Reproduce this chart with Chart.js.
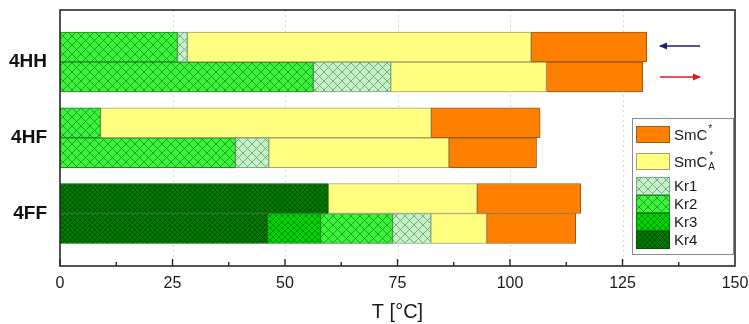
<!DOCTYPE html>
<html>
<head>
<meta charset="utf-8">
<script src="https://cdn.jsdelivr.net/npm/chart.js@4"></script>
<style>
  html, body { margin: 0; padding: 0; background: #fff; }
  canvas { display: block; }
</style>
</head>
<body>
<canvas id="c" width="749" height="324"></canvas>
<script>
// Samples on the category axis
const samples = ['4HH', '4HF', '4FF'];

// Upper temperature limit (°C) of each phase range, per sample; null = phase not seen.
// Cooling run (top bar of each pair)
const coolKr4  = [null, null, 59.6];
const coolKr3  = [null, null, null];
const coolKr2  = [26.1, 9.0, null];
const coolKr1  = [28.3, null, null];
const coolSmCA = [104.7, 82.5, 92.7];
const coolSmC  = [130.4, 106.7, 115.7];
// Heating run (bottom bar of each pair)
const heatKr4  = [null, null, 46.1];
const heatKr3  = [null, null, 57.9];
const heatKr2  = [56.3, 39.0, 73.9];
const heatKr1  = [73.5, 46.4, 82.4];
const heatSmCA = [108.1, 86.4, 94.8];
const heatSmC  = [129.5, 105.9, 114.6];

// Phase order from the lowest temperature up
const phases = ['Kr4', 'Kr3', 'Kr2', 'Kr1', 'SmCA', 'SmC'];
const tempTicks = [0, 25, 50, 75, 100, 125, 150];

const FONT = "'Liberation Sans', Arial, sans-serif";

// Turn per-phase upper limits into stacked segment widths
function segments(limits) {
  const prev = samples.map(() => 0);
  return limits.map(arr => arr.map((v, i) => {
    if (v === null) return null;
    const w = v - prev[i];
    prev[i] = v;
    return w;
  }));
}

// Cross-hatch fill pattern
function hatch(bg, line, s) {
  const cv = document.createElement('canvas');
  cv.width = s; cv.height = s;
  const g = cv.getContext('2d');
  g.fillStyle = bg;
  g.fillRect(0, 0, s, s);
  g.strokeStyle = line;
  g.lineWidth = 0.9;
  g.beginPath();
  for (const k of [-s, 0, s]) {
    g.moveTo(k, 0); g.lineTo(k + s, s);
    g.moveTo(k, s); g.lineTo(k + s, 0);
  }
  g.stroke();
  return g.createPattern(cv, 'repeat');
}

const phaseStyle = {
  Kr4:  { bg: hatch('#007c00', '#004c00', 5), border: '#005000' },
  Kr3:  { bg: hatch('#00d400', '#008c00', 6), border: '#008400' },
  Kr2:  { bg: hatch('#3cf23c', '#1d9a1d', 9), border: '#1f8c1f' },
  Kr1:  { bg: hatch('#c6f3c6', '#6fa57c', 9), border: '#7aa68a' },
  SmCA: { bg: '#ffff80', border: '#a8a070' },
  SmC:  { bg: '#ff8000', border: '#9a5a1a' }
};

const coolSeg = segments([coolKr4, coolKr3, coolKr2, coolKr1, coolSmCA, coolSmC]);
const heatSeg = segments([heatKr4, heatKr3, heatKr2, heatKr1, heatSmCA, heatSmC]);

const datasets = [];
[['cooling', coolSeg], ['heating', heatSeg]].forEach(([stack, seg]) => {
  phases.forEach((p, k) => {
    datasets.push({
      label: p,
      stack: stack,
      data: seg[k],
      backgroundColor: phaseStyle[p].bg,
      borderColor: phaseStyle[p].border,
      borderWidth: 1,
      borderSkipped: false,
      barThickness: 30
    });
  });
});

// Grid, frame, inward ticks, legend and run-direction arrows
const decor = {
  id: 'decor',
  beforeDatasetsDraw(chart) {
    const { ctx, chartArea: a, scales: { x } } = chart;
    ctx.save();
    ctx.strokeStyle = '#dadada';
    ctx.lineWidth = 1;
    ctx.setLineDash([2, 3]);
    tempTicks.slice(1, -1).forEach(v => {
      const px = Math.round(x.getPixelForValue(v)) + 0.5;
      ctx.beginPath(); ctx.moveTo(px, a.top); ctx.lineTo(px, a.bottom); ctx.stroke();
    });
    ctx.restore();
  },
  afterDatasetsDraw(chart) {
    const { ctx, chartArea: a, scales: { x } } = chart;
    ctx.save();
    ctx.strokeStyle = '#2a2a2a';
    ctx.lineWidth = 1.6;
    ctx.strokeRect(a.left, a.top, a.right - a.left, a.bottom - a.top);
    ctx.lineWidth = 1.4;
    for (let i = 0; i < tempTicks.length - 1; i++) {
      const v0 = tempTicks[i], v1 = tempTicks[i + 1];
      const pm = x.getPixelForValue(v0);
      const pn = x.getPixelForValue((v0 + v1) / 2);
      ctx.beginPath();
      ctx.moveTo(pm, a.bottom); ctx.lineTo(pm, a.bottom - 7);
      ctx.moveTo(pn, a.bottom); ctx.lineTo(pn, a.bottom - 4);
      ctx.stroke();
    }
    ctx.restore();
  },
  afterDraw(chart) {
    const { ctx, chartArea: a } = chart;
    ctx.save();
    // legend box
    const bx = a.right - 103, by = a.top + 108, bw = 101, bh = 136;
    ctx.fillStyle = '#fff';
    ctx.fillRect(bx, by, bw, bh);
    ctx.strokeStyle = '#8a8a8a';
    ctx.lineWidth = 1;
    ctx.strokeRect(bx + 0.5, by + 0.5, bw, bh);
    const rows = [
      { p: 'SmC',  y: 116, h: 17 },
      { p: 'SmCA', y: 143, h: 17 },
      { p: 'Kr1',  y: 167, h: 18 },
      { p: 'Kr2',  y: 185, h: 18 },
      { p: 'Kr3',  y: 203, h: 18 },
      { p: 'Kr4',  y: 221, h: 18 }
    ];
    const sx = a.right - 99, sw = 34, tx = a.right - 61;
    rows.forEach(r => {
      const st = phaseStyle[r.p];
      const y = a.top + r.y;
      ctx.fillStyle = st.bg;
      ctx.fillRect(sx, y, sw, r.h);
      ctx.strokeStyle = st.border;
      ctx.strokeRect(sx + 0.5, y + 0.5, sw - 1, r.h - 1);
      const cy = y + r.h / 2 + 1;
      ctx.fillStyle = '#1a1a1a';
      ctx.textBaseline = 'middle';
      ctx.textAlign = 'left';
      ctx.font = '15px ' + FONT;
      if (r.p === 'SmC' || r.p === 'SmCA') {
        ctx.fillText('SmC', tx, cy);
        const w = ctx.measureText('SmC').width;
        ctx.font = '10px ' + FONT;
        if (r.p === 'SmC') {
          ctx.fillText('*', tx + w + 1, cy - 6);
        } else {
          ctx.fillText('A', tx + w + 1, cy + 5);
          ctx.fillText('*', tx + w + 2, cy - 6);
        }
      } else {
        ctx.fillText(r.p, tx, cy);
      }
    });
    // run-direction arrows
    const arrow = (y, color, left) => {
      const x0 = a.right - 75, x1 = a.right - 35;
      ctx.strokeStyle = color; ctx.fillStyle = color; ctx.lineWidth = 1.6;
      ctx.beginPath(); ctx.moveTo(x0, y); ctx.lineTo(x1, y); ctx.stroke();
      const tip = left ? x0 - 1 : x1 + 1, d = left ? 8 : -8;
      ctx.beginPath();
      ctx.moveTo(tip, y); ctx.lineTo(tip + d, y - 3.5); ctx.lineTo(tip + d, y + 3.5);
      ctx.closePath(); ctx.fill();
    };
    arrow(a.top + 36, '#1c1c78', true);
    arrow(a.top + 67, '#e01818', false);
    ctx.restore();
  }
};

new Chart(document.getElementById('c'), {
  type: 'bar',
  data: { labels: samples, datasets },
  options: {
    indexAxis: 'y',
    responsive: false,
    animation: false,
    layout: { padding: { top: 10, right: 14, left: 0, bottom: 0 } },
    plugins: { legend: { display: false }, tooltip: { enabled: false } },
    scales: {
      x: {
        type: 'linear',
        stacked: true,
        min: 0,
        max: 150,
        afterBuildTicks: s => { s.ticks = tempTicks.map(v => ({ value: v })); },
        ticks: { padding: 8, color: '#1a1a1a', font: { size: 16, family: FONT } },
        grid: { display: false, drawTicks: false },
        border: { display: false },
        title: {
          display: true,
          text: 'T [°C]',
          color: '#1a1a1a',
          font: { size: 20, family: FONT },
          padding: { top: 3, bottom: 0 }
        },
        afterFit: s => { s.height = 58; s.paddingLeft = 0; s.paddingRight = 0; }
      },
      y: {
        type: 'category',
        offset: true,
        grid: { display: false, drawTicks: false },
        border: { display: false },
        ticks: { padding: 13, color: '#111', font: { size: 19, weight: 'bold', family: FONT } },
        afterFit: s => { s.width = 60; s.paddingTop = 0; s.paddingBottom = 0; },
        // extra room above the first and below the last sample pair
        afterBuildTicks: s => { s._startValue = -0.6865; s._valueRange = 3.3795; }
      }
    }
  },
  plugins: [decor]
});
</script>
</body>
</html>
